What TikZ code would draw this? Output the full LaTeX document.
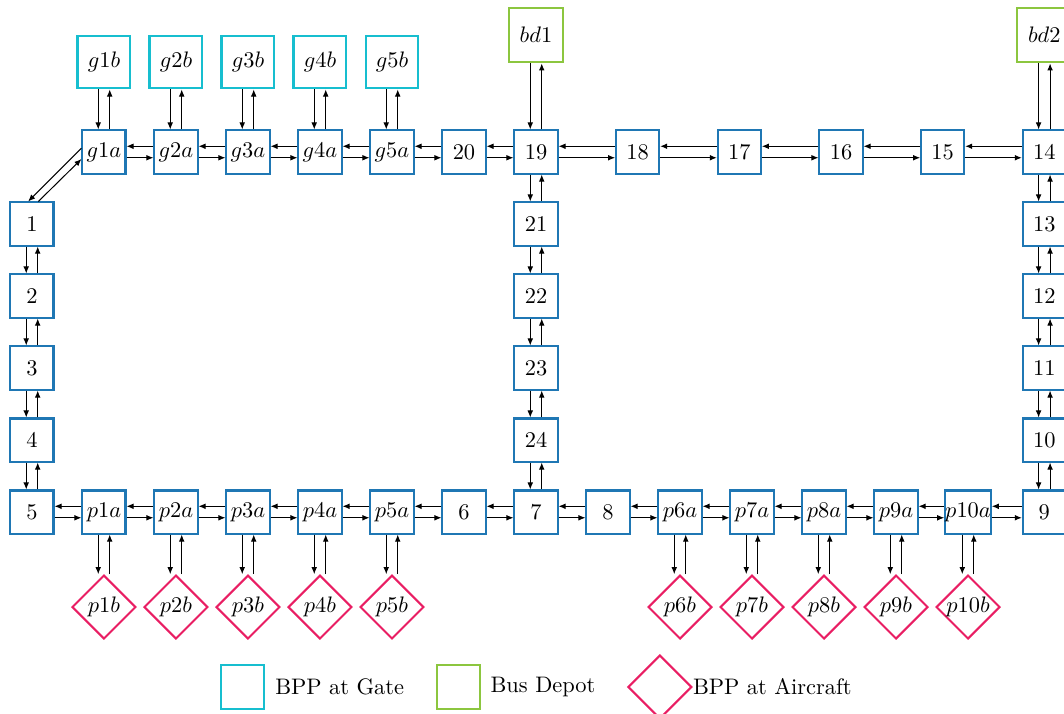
\documentclass[tikz,border=0pt]{standalone}
\usetikzlibrary{shapes.geometric,arrows.meta,positioning}
\definecolor{hubblue}{RGB}{31,119,180}
\definecolor{gatecyan}{RGB}{23,190,207}
\definecolor{depotgreen}{RGB}{140,198,63}
\definecolor{planepink}{RGB}{233,30,99}

\begin{document}
\begin{tikzpicture}[x=1.1285cm,y=1.1285cm,
  >={Latex[length=1.1mm,width=0.9mm]},
  hub/.style={draw=hubblue,line width=0.9pt,minimum size=0.675cm,inner sep=0pt},
  gate/.style={draw=gatecyan,line width=0.9pt,minimum size=0.83cm,inner sep=0pt},
  depot/.style={draw=depotgreen,line width=0.9pt,minimum size=0.86cm,inner sep=0pt},
  plane/.style={diamond,draw=planepink,line width=0.9pt,minimum size=1cm,inner sep=0pt},
  link/.style={->,line width=0.45pt}]
\useasboundingbox (-0.444,2.111) rectangle (14.333,-7.792);

% left column and the two long rows
\foreach \i in {1,...,5} {
  \node[hub] (n\i) at (0,-\i) {\i};
  \node[hub] (g\i a) at (\i,0) {$g\i a$};
  \node[gate] (g\i b) at (\i,1.25) {$g\i b$};
  \node[hub] (p\i a) at (\i,-5) {$p\i a$};
  \node[plane] (p\i b) at (\i,-6.32) {$p\i b$};
}
\foreach \i in {6,...,10} {
  \node[hub] (p\i a) at (\i+3,-5) {$p\i a$};
  \node[plane] (p\i b) at (\i+3,-6.32) {$p\i b$};
}
\node[hub] (n20) at (6,0) {20};
\node[hub] (n19) at (7,0) {19};
\node[hub] (n18) at (8.412,0) {18};
\node[hub] (n17) at (9.824,0) {17};
\node[hub] (n16) at (11.236,0) {16};
\node[hub] (n15) at (12.648,0) {15};
\node[hub] (n14) at (14.06,0) {14};
\node[depot] (bd1) at (7,1.625) {$bd1$};
\node[depot] (bd2) at (14.06,1.625) {$bd2$};
\node[hub] (n6) at (6,-5) {6};
\node[hub] (n7) at (7,-5) {7};
\node[hub] (n8) at (8,-5) {8};
\node[hub] (n9) at (14.06,-5) {9};

% middle and right columns
\foreach \i/\j in {1/21,2/22,3/23,4/24} {
  \node[hub] (n\j) at (7,-\i) {\j};
}
\foreach \i/\j in {1/13,2/12,3/11,4/10} {
  \node[hub] (n\j) at (14.06,-\i) {\j};
}

% two-way links, left to right
\foreach \a/\b in {g1a/g2a,g2a/g3a,g3a/g4a,g4a/g5a,g5a/n20,n20/n19,n19/n18,
    n18/n17,n17/n16,n16/n15,n15/n14,n5/p1a,p1a/p2a,p2a/p3a,p3a/p4a,p4a/p5a,
    p5a/n6,n6/n7,n7/n8,n8/p6a,p6a/p7a,p7a/p8a,p8a/p9a,p9a/p10a,p10a/n9} {
  \draw[link] ([yshift=0.9mm]\b.west) -- ([yshift=0.9mm]\a.east);
  \draw[link] ([yshift=-0.9mm]\a.east) -- ([yshift=-0.9mm]\b.west);
}
% two-way links, top to bottom
\foreach \a/\b in {g1b/g1a,g2b/g2a,g3b/g3a,g4b/g4a,g5b/g5a,bd1/n19,bd2/n14,
    n1/n2,n2/n3,n3/n4,n4/n5,n19/n21,n21/n22,n22/n23,n23/n24,n24/n7,
    n14/n13,n13/n12,n12/n11,n11/n10,n10/n9,p1a/p1b,p2a/p2b,p3a/p3b,p4a/p4b,
    p5a/p5b,p6a/p6b,p7a/p7b,p8a/p8b,p9a/p9b,p10a/p10b} {
  \draw[link] ([xshift=-0.9mm]\a.south) -- ([xshift=-0.9mm]\b.north);
  \draw[link] ([xshift=0.9mm]\b.north) -- ([xshift=0.9mm]\a.south);
}
\draw[link] ([yshift=0.6mm]g1a.west) -- ([xshift=-0.6mm]n1.north);
\draw[link] ([xshift=1mm]n1.north) -- ([yshift=-1.1mm]g1a.west);

% legend
\node[hub,draw=gatecyan] (keygate) at (2.93,-7.43) {};
\node[right=0.3mm of keygate] {BPP at Gate};
\node[hub,draw=depotgreen] (keydepot) at (5.92,-7.43) {};
\node[right=0.3mm of keydepot] {Bus Depot};
\node[plane] (keyplane) at (8.72,-7.43) {};
\node[right=-1.2mm of keyplane] {BPP at Aircraft};
\end{tikzpicture}
\end{document}
